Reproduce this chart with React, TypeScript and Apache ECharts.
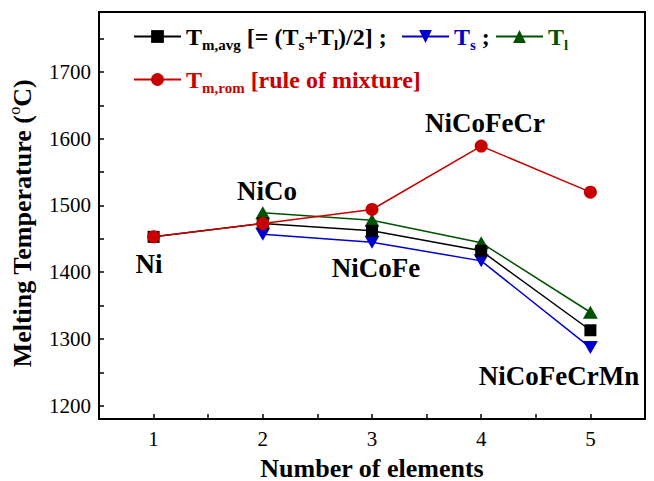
import React, { useEffect, useRef } from 'react';
import * as echarts from 'echarts';

const elements = [1, 2, 3, 4, 5];
const tmAvg = [1453, 1473, 1462, 1432, 1313];
const tSolidus = [null, 1457, 1445, 1417, 1287];
const tLiquidus = [null, 1489, 1478, 1444, 1340];
const tmRom = [1453, 1473, 1494, 1589, 1520];
const alloyNames = ['Ni', 'NiCo', 'NiCoFe', 'NiCoFeCr', 'NiCoFeCrMn'];
const yTickLabels = [1200, 1300, 1400, 1500, 1600, 1700];
const yTicks = [1200, 1250, 1300, 1350, 1400, 1450, 1500, 1550, 1600, 1650, 1700, 1750];
const xTickLabels = [1, 2, 3, 4, 5];
const xTicks = [1, 1.5, 2, 2.5, 3, 3.5, 4, 4.5, 5];

const F = 'Liberation Serif';
const BLACK = '#000000';
const BLUE = '#0000cc';
const GREEN = '#005200';
const RED = '#c80000';

const pair = (vals: (number | null)[]) =>
  elements.map((x, i) => [x, vals[i]]).filter((p) => p[1] != null);

const tok = (color: string, size: number, pad?: number[]) => ({
  fontFamily: F,
  fontWeight: 'bold',
  fontSize: size,
  color,
  ...(pad ? { lineHeight: size, padding: pad } : {}),
});

// label placement (pixel) for composition names
const labelPos: [number, number][] = [
  [149, 264],
  [267, 191],
  [376, 268],
  [485, 123],
  [559, 376],
];

export default function App() {
  const ref = useRef<HTMLDivElement>(null);
  useEffect(() => {
    document.body.style.margin = '0';
    const chart = echarts.init(ref.current!, null, { renderer: 'svg' });
    const legendBase = {
      orient: 'horizontal',
      padding: 0,
      itemWidth: 47,
      itemHeight: 16,
      selectedMode: false,
    };
    const option: any = {
      animation: false,
      backgroundColor: '#ffffff',
      grid: {
        left: 99,
        right: 9,
        top: 12,
        bottom: 62,
        show: true,
        borderColor: BLACK,
        borderWidth: 2,
        containLabel: false,
        outerBoundsMode: 'none',
      },
      legend: [
        {
          ...legendBase,
          left: 133,
          top: 21,
          data: ['Tm,avg'],
          formatter: () => '{t|T}{s|m,avg}{t| [= (T}{s|s}{t|+T}{s|l}{t|)/2] ;}',
          textStyle: {
            ...tok(BLACK, 24),
            rich: { t: tok(BLACK, 24), s: tok(BLACK, 15, [16, 0, 0, 0]) },
          },
        },
        {
          ...legendBase,
          left: 401,
          top: 21,
          data: ['Ts'],
          formatter: () => '{t|T}{s|s}{k| ;}',
          textStyle: {
            ...tok(BLUE, 24),
            rich: { t: tok(BLUE, 24), s: tok(BLUE, 15, [16, 0, 0, 0]), k: tok(BLACK, 24) },
          },
        },
        {
          ...legendBase,
          left: 495,
          top: 21,
          data: ['Tl'],
          formatter: () => '{t|T}{s|l}',
          textStyle: {
            ...tok(GREEN, 24),
            rich: { t: tok(GREEN, 24), s: tok(GREEN, 15, [16, 0, 0, 0]) },
          },
        },
        {
          ...legendBase,
          left: 133,
          top: 64,
          data: ['Tm,rom'],
          formatter: () => '{t|T}{s|m,rom}{t| [rule of mixture]}',
          textStyle: {
            ...tok(RED, 24),
            rich: { t: tok(RED, 24), s: tok(RED, 15, [16, 0, 0, 0]) },
          },
        },
      ],
      xAxis: {
        type: 'value',
        min: 0.5,
        max: 5.5,
        name: 'Number of elements',
        nameLocation: 'middle',
        nameGap: 36,
        nameTextStyle: { fontFamily: F, fontWeight: 'bold', fontSize: 26, color: BLACK },
        axisLine: { show: true, lineStyle: { color: BLACK, width: 2 } },
        axisTick: {
          show: true,
          inside: true,
          length: 5,
          lineStyle: { color: BLACK, width: 1.5 },
          customValues: xTicks,
        },
        axisLabel: {
          fontFamily: F,
          fontSize: 21,
          color: BLACK,
          margin: 9,
          customValues: xTickLabels,
          formatter: (v: number) => String(v),
        },
        splitLine: { show: false },
      },
      yAxis: {
        type: 'value',
        min: 1180,
        max: 1790,
        name: '{t|Melting Temperature (}{p|o}{t|C)}',
        nameLocation: 'middle',
        nameRotate: 90,
        nameGap: 56,
        nameTextStyle: {
          fontFamily: F,
          fontWeight: 'bold',
          fontSize: 26,
          color: BLACK,
          padding: [0, 16, 0, 0],
          rich: {
            t: tok(BLACK, 26),
            p: { fontFamily: F, fontWeight: 'normal', fontSize: 16, color: BLACK, lineHeight: 16, padding: [0, 0, 16, 0] },
          },
        },
        axisLine: { show: true, lineStyle: { color: BLACK, width: 2 } },
        axisTick: {
          show: true,
          inside: true,
          length: 5,
          lineStyle: { color: BLACK, width: 1.5 },
          customValues: yTicks,
        },
        axisLabel: {
          fontFamily: F,
          fontSize: 21,
          color: BLACK,
          margin: 8,
          customValues: yTickLabels,
          formatter: (v: number) => String(v),
        },
        splitLine: { show: false },
      },
      series: [
        {
          name: 'Ts',
          type: 'line',
          data: pair(tSolidus),
          symbol: 'path://M0 0L2 0L1 1.8Z',
          symbolSize: [15, 13],
          color: BLUE,
          lineStyle: { color: BLUE, width: 1.5 },
          itemStyle: { color: BLUE },
        },
        {
          name: 'Tl',
          type: 'line',
          data: pair(tLiquidus),
          symbol: 'triangle',
          symbolSize: [15, 13],
          color: GREEN,
          lineStyle: { color: GREEN, width: 1.5 },
          itemStyle: { color: GREEN },
        },
        {
          name: 'Tm,avg',
          type: 'line',
          data: pair(tmAvg),
          symbol: 'rect',
          symbolSize: 12,
          color: BLACK,
          lineStyle: { color: BLACK, width: 1.5 },
          itemStyle: { color: BLACK },
        },
        {
          name: 'Tm,rom',
          type: 'line',
          data: pair(tmRom),
          symbol: 'circle',
          symbolSize: 13,
          color: RED,
          lineStyle: { color: RED, width: 1.5 },
          itemStyle: { color: RED },
        },
      ],
      graphic: alloyNames.map((n, i) => ({
        type: 'text',
        x: labelPos[i][0],
        y: labelPos[i][1],
        silent: true,
        style: {
          text: n,
          align: 'center',
          verticalAlign: 'middle',
          fontFamily: F,
          fontWeight: 'bold',
          fontSize: 27,
          fill: BLACK,
        },
      })),
    };
    chart.setOption(option);
    return () => chart.dispose();
  }, []);
  return <div ref={ref} style={{ width: 654, height: 481 }} />;
}
